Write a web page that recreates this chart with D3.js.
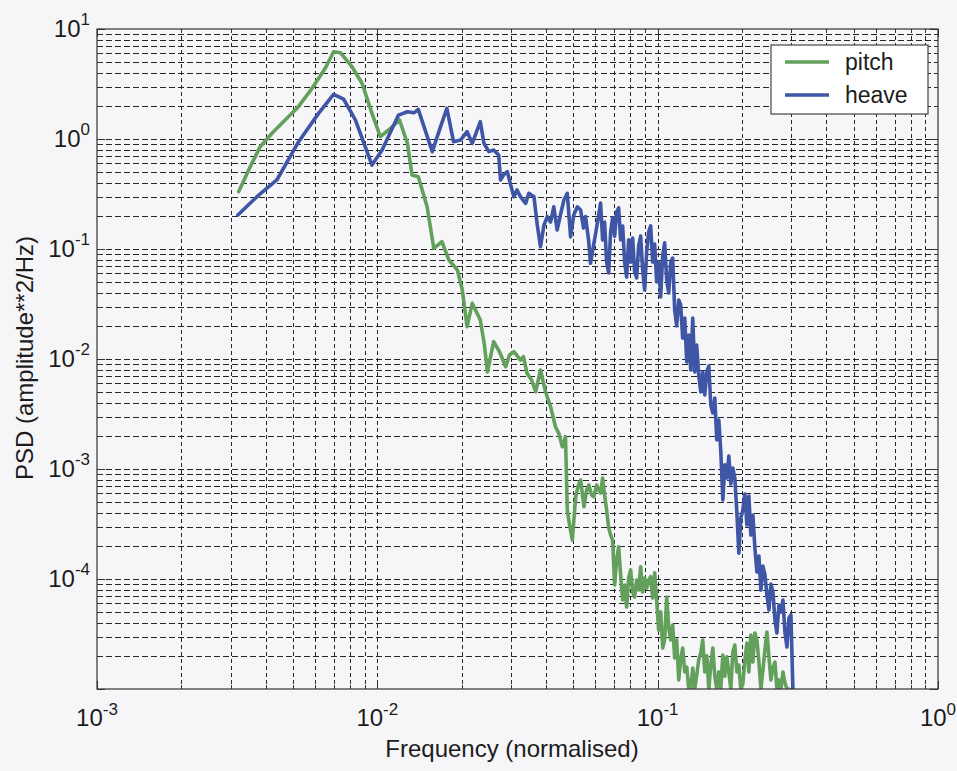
<!DOCTYPE html>
<html><head><meta charset="utf-8">
<script src="https://cdn.jsdelivr.net/npm/d3@7"></script>
<style>
html,body{margin:0;padding:0;background:#f6f6f8;}
svg{display:block;}
text{font-family:"Liberation Sans",Arial,Helvetica,sans-serif;fill:#1c1c1c;}
</style>
</head><body>
<svg id="c" width="957" height="771"></svg>
<script>
// ---- data ----
const seriesNames = ["pitch", "heave"];
const pitchFreq = [0.00320,0.00352,0.00382,0.00421,0.00469,0.00517,0.00585,0.00652,0.00698,0.00738,
0.00812,0.00882,0.00957,0.01025,0.01097,0.0120,0.0128,0.0133,0.0140,0.01505,
0.0159,0.0170,0.0180,0.0193,0.0201,0.0209,0.0218,0.0233,0.0241,0.0247,
0.0260,0.0273,0.0287,0.0296,0.0307,0.0324,0.0332,0.0342,0.0355,0.0367,
0.0382,0.0398,0.0415,0.0432,0.0444,0.0457,0.0469,0.0476,0.0485,0.0496,
0.0510,0.0522,0.0531,0.0546,0.0558,0.0568,0.0581,0.0592,0.0606,0.0617,
0.06258,0.06362,0.06467,0.06575,0.06684,0.06795,0.06907,0.07022,0.07138,0.07257,
0.07377,0.07499,0.07624,0.07750,0.07879,0.08009,0.08142,0.08277,0.08414,0.08554,
0.08696,0.08840,0.08987,0.09136,0.09287,0.09441,0.09597,0.09756,0.09918,0.1008,
0.1025,0.1042,0.1059,0.1077,0.1095,0.1113,0.1131,0.1150,0.1169,0.1189,
0.1208,0.1228,0.1249,0.1270,0.1291,0.1312,0.1334,0.1356,0.1378,0.1401,
0.1425,0.1448,0.1472,0.1497,0.1522,0.1547,0.1573,0.1599,0.1625,0.1652,
0.1680,0.1708,0.1736,0.1765,0.1794,0.1824,0.1854,0.1885,0.1916,0.1948,
0.1980,0.2013,0.2047,0.2081,0.2115,0.2150,0.2186,0.2222,0.2259,0.2297,
0.2335,0.2374,0.2413,0.2453,0.2494,0.2535,0.2577,0.2620,0.2663,0.2708,
0.2752,0.2798,0.2844,0.2892,0.2940];
const pitchPSD = [0.332,0.560,0.851,1.127,1.488,1.901,2.890,4.392,6.217,6.088,
4.542,3.209,1.71,1.049,1.207,1.488,0.914,0.471,0.454,0.242,
0.1015,0.1165,0.0794,0.0644,0.0424,0.0197,0.0321,0.0226,0.0134,0.00762,
0.01437,0.01158,0.00851,0.01088,0.01165,0.00979,0.0105,0.00741,0.00644,0.00504,
0.00794,0.00504,0.00368,0.00242,0.00211,0.00159,0.00197,0.000424,0.000310,0.000226,
0.000560,0.000715,0.000794,0.000454,0.000644,0.000715,0.000580,0.000560,0.000715,0.000644,
0.000605,0.000828,0.000580,0.000424,0.000297,0.000251,0.000226,0.0000882,0.000149,0.000196,
0.000109,0.0000644,0.0000882,0.0000556,0.000102,0.000121,0.0000761,0.0000686,0.0000979,0.0000794,
0.000129,0.0000761,0.000102,0.0000828,0.0000979,0.000105,0.0000672,0.000114,0.0000644,0.0000344,
0.0000502,0.0000236,0.0000279,0.0000686,0.0000359,0.0000279,0.0000382,0.0000192,0.0000279,0.0000121,
0.0000184,0.0000236,0.0000143,0.0000158,0.0000100,0.0000103,0.0000155,0.0000100,0.0000134,0.0000184,
0.0000213,0.0000279,0.0000143,0.0000200,0.0000100,0.0000165,0.0000236,0.0000131,0.0000100,0.0000143,
0.0000102,0.0000204,0.0000131,0.0000196,0.0000143,0.0000100,0.0000217,0.0000251,0.0000143,0.0000165,
0.0000100,0.0000111,0.0000184,0.0000262,0.0000143,0.0000310,0.0000176,0.0000323,0.0000279,0.0000176,
0.0000100,0.0000149,0.0000226,0.0000330,0.0000196,0.0000121,0.0000155,0.0000176,0.0000100,0.0000121,
0.0000100,0.0000143,0.0000114,0.0000100,0.0000100];
const heaveFreq = [0.00318,0.00372,0.00438,0.00524,0.00617,0.00698,0.00758,0.00835,0.00957,0.0104,
0.0119,0.0128,0.0135,0.0140,0.0148,0.0157,0.0168,0.0177,0.0187,0.0198,
0.0209,0.0218,0.0233,0.0240,0.0250,0.0260,0.0271,0.0275,0.0282,0.0291,
0.0299,0.0307,0.0315,0.0324,0.0338,0.0347,0.0362,0.0372,0.0382,0.0393,
0.0404,0.0415,0.0426,0.0438,0.0450,0.0463,0.0476,0.0489,0.0502,0.0517,
0.0531,0.0544,0.0553,0.0567,0.0576,0.0591,0.0601,0.0616,
0.06258,0.06362,0.06467,0.06575,0.06684,0.06795,0.06907,0.07022,0.07138,0.07257,
0.07377,0.07499,0.07624,0.07750,0.07879,0.08009,0.08142,0.08277,0.08414,0.08554,
0.08696,0.08840,0.08987,0.09136,0.09287,0.09441,0.09597,0.09756,0.09918,0.1008,
0.1025,0.1042,0.1059,0.1077,0.1095,0.1113,0.1131,0.1150,0.1169,0.1189,
0.1208,0.1228,0.1249,0.1270,0.1291,0.1312,0.1334,0.1356,0.1378,0.1401,
0.1425,0.1448,0.1472,0.1497,0.1522,0.1547,0.1573,0.1599,0.1625,0.1652,
0.1680,0.1708,0.1736,0.1765,0.1794,0.1824,0.1854,0.1885,0.1916,0.1948,
0.1980,0.2013,0.2047,0.2081,0.2115,0.2150,0.2186,0.2222,0.2259,0.2297,
0.2335,0.2374,0.2413,0.2453,0.2494,0.2535,0.2577,0.2620,0.2663,0.2708,
0.2752,0.2798,0.2844,0.2892,0.2940,0.2988,0.3038];
const heavePSD = [0.204,0.299,0.424,0.945,1.71,2.55,2.30,1.49,0.580,0.794,
1.65,1.77,1.73,1.86,1.21,0.767,1.29,1.90,0.945,0.979,
1.165,0.914,1.436,0.914,0.767,0.794,0.715,0.424,0.471,0.504,
0.382,0.299,0.344,0.299,0.260,0.321,0.299,0.165,0.105,0.165,
0.197,0.176,0.242,0.149,0.204,0.279,0.321,0.129,0.204,0.242,
0.226,0.155,0.197,0.121,0.0741,0.109,0.139,0.204,
0.262,0.121,0.176,0.0761,0.0605,0.143,0.192,0.131,0.217,0.236,
0.121,0.162,0.0761,0.0556,0.121,0.0761,0.126,0.0618,0.0545,0.107,
0.131,0.0644,0.0424,0.0939,0.143,0.162,0.0761,0.111,0.0502,0.0761,
0.0366,0.0864,0.114,0.0523,0.0398,0.0761,0.0828,0.0279,0.0200,0.0344,
0.0310,0.0155,0.0236,0.00939,0.0165,0.00794,0.0236,0.00761,0.0134,0.00715,
0.00502,0.00761,0.00471,0.00761,0.00864,0.00382,0.00323,0.00442,0.00184,0.00279,
0.00143,0.000523,0.00109,0.000828,0.00131,0.000730,0.00102,0.000828,0.000407,0.000172,
0.000359,0.000424,0.000592,0.000310,0.000568,0.000251,0.000382,0.000192,0.000116,0.000162,
0.0000794,0.000131,0.000109,0.0000715,0.0000523,0.0000901,0.0000761,0.0000424,0.0000323,0.0000580,
0.0000502,0.0000644,0.0000330,0.0000241,0.0000442,0.0000471,0.0000095];
const xTickExponents = [-3, -2, -1, 0];
const yTickExponents = [-4, -3, -2, -1, 0, 1];
const xDomain = [1e-3, 1];
const yDomain = [1e-5, 10];
const xTitle = "Frequency (normalised)";
const yTitle = "PSD (amplitude**2/Hz)";

// ---- layout ----
const colors = {pitch: "#62a05c", heave: "#3f55a6"};
const P = {left: 97, right: 938, top: 29, bottom: 689};
const svg = d3.select("#c");
const x = d3.scaleLog().domain(xDomain).range([P.left, P.right]);
const y = d3.scaleLog().domain(yDomain).range([P.bottom, P.top]);
const isMajor = v => Math.abs(Math.log10(v) - Math.round(Math.log10(v))) < 1e-9;
const xt = x.ticks(), yt = y.ticks();
const inner = (v, d) => v > d[0] * 1.0001 && v < d[1] * 0.9999;
const px = v => Math.round(v) + 0.5;

// grid
const gv = svg.append("g").attr("stroke", "#262626").attr("stroke-width", 1)
  .attr("stroke-dasharray", "4,3").attr("shape-rendering", "crispEdges");
gv.selectAll("line").data(xt.filter(v => inner(v, xDomain))).join("line")
  .attr("x1", d => px(x(d))).attr("x2", d => px(x(d))).attr("y1", P.top).attr("y2", P.bottom);
const gh = svg.append("g").attr("stroke", "#262626").attr("stroke-width", 1)
  .attr("stroke-dasharray", "6,3").attr("shape-rendering", "crispEdges");
gh.selectAll("line").data(yt.filter(v => inner(v, yDomain))).join("line")
  .attr("y1", d => px(y(d))).attr("y2", d => px(y(d))).attr("x1", P.left).attr("x2", P.right);

// ticks (inward, all sides)
const tg = svg.append("g").attr("stroke", "#333").attr("stroke-width", 1).attr("shape-rendering", "crispEdges");
xt.forEach(v => {
  const L = isMajor(v) ? 8 : 4;
  tg.append("line").attr("x1", px(x(v))).attr("x2", px(x(v))).attr("y1", P.bottom).attr("y2", P.bottom - L);
  tg.append("line").attr("x1", px(x(v))).attr("x2", px(x(v))).attr("y1", P.top).attr("y2", P.top + L);
});
yt.forEach(v => {
  const L = isMajor(v) ? 8 : 4;
  tg.append("line").attr("y1", px(y(v))).attr("y2", px(y(v))).attr("x1", P.left).attr("x2", P.left + L);
  tg.append("line").attr("y1", px(y(v))).attr("y2", px(y(v))).attr("x1", P.right).attr("x2", P.right - L);
});

// curves
svg.append("clipPath").attr("id", "clip").append("rect")
  .attr("x", P.left).attr("y", P.top).attr("width", P.right - P.left).attr("height", P.bottom - P.top);
const line = d3.line().x(d => x(d[0])).y(d => y(d[1]));
const series = [
  {name: seriesNames[0], data: d3.zip(pitchFreq, pitchPSD)},
  {name: seriesNames[1], data: d3.zip(heaveFreq, heavePSD)}
];
svg.append("g").attr("clip-path", "url(#clip)").selectAll("path").data(series).join("path")
  .attr("d", d => line(d.data)).attr("fill", "none").attr("stroke", d => colors[d.name])
  .attr("stroke-width", 3.6).attr("stroke-linejoin", "round").attr("stroke-linecap", "round");

// frame
svg.append("rect").attr("x", P.left).attr("y", P.top).attr("width", P.right - P.left)
  .attr("height", P.bottom - P.top).attr("fill", "none").attr("stroke", "#333").attr("stroke-width", 1.2);

// tick labels
const xl = svg.append("g");
xTickExponents.forEach(e => {
  const t = xl.append("text").attr("x", x(Math.pow(10, e))).attr("y", 726).attr("text-anchor", "middle").attr("font-size", 24);
  t.append("tspan").text("10");
  t.append("tspan").attr("dy", -11).attr("font-size", 17).text(String(e));
});
const yl = svg.append("g");
yTickExponents.forEach(e => {
  const t = yl.append("text").attr("x", 90).attr("y", y(Math.pow(10, e)) + 8).attr("text-anchor", "end").attr("font-size", 24);
  t.append("tspan").text("10");
  t.append("tspan").attr("dy", -12).attr("font-size", 17).text(String(e));
});

// axis titles
svg.append("text").attr("x", 512).attr("y", 757).attr("text-anchor", "middle").attr("font-size", 24).text(xTitle);
svg.append("text").attr("transform", "translate(33,358) rotate(-90)").attr("text-anchor", "middle").attr("font-size", 24).text(yTitle);

// legend
const lg = svg.append("g");
lg.append("rect").attr("x", 771).attr("y", 45).attr("width", 157).attr("height", 69)
  .attr("fill", "#ffffff").attr("stroke", "#444").attr("stroke-width", 1.2);
series.forEach((s, i) => {
  const yy = 62 + i * 33;
  lg.append("line").attr("x1", 785).attr("x2", 829).attr("y1", yy).attr("y2", yy)
    .attr("stroke", colors[s.name]).attr("stroke-width", 3.6);
  lg.append("text").attr("x", 845).attr("y", yy + 8).attr("font-size", 23).text(s.name);
});
</script>
</body></html>
